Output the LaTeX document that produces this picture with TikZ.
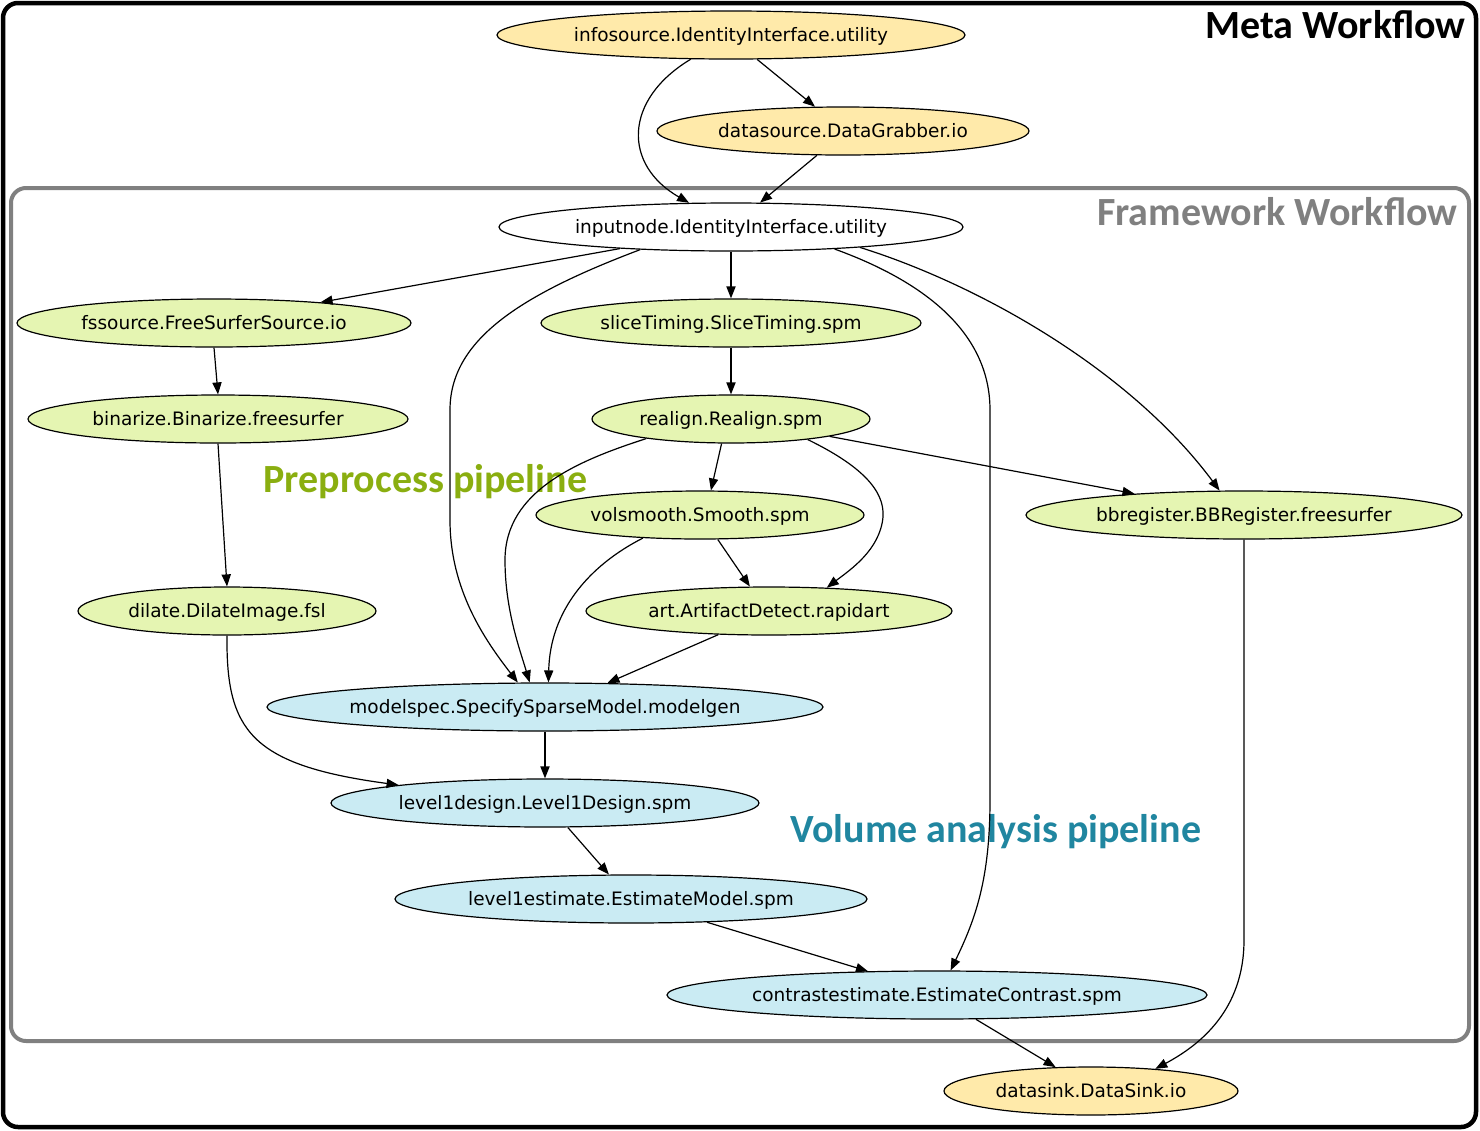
\documentclass[tikz,border=0pt]{standalone}
\usepackage{fontspec}
\setmainfont{DejaVu Sans}
\newfontfamily\titlefont{Carlito}
\usetikzlibrary{shapes.geometric,arrows.meta}
\definecolor{metaY}{RGB}{255,234,170}
\definecolor{preG}{RGB}{229,245,178}
\definecolor{volB}{RGB}{202,235,243}
\definecolor{preT}{RGB}{138,174,16}
\definecolor{volT}{RGB}{32,134,160}
\definecolor{frameG}{RGB}{128,128,128}
\tikzset{
  wf/.style={ellipse, draw=black, line width=0.6pt, inner sep=0pt, minimum height=24pt, text height=6.75pt, text depth=0pt, font=\fontsize{9.25}{11}\selectfont},
  metanode/.style={wf, fill=metaY},
  prenode/.style={wf, fill=preG},
  volnode/.style={wf, fill=volB},
  plainnode/.style={wf, fill=white},
  edge/.style={line width=0.6pt, -{Triangle[length=6pt,width=4.6pt]}},
  bigtitle/.style={font=\titlefont\bfseries\fontsize{20}{22}\selectfont, inner sep=0pt}
}
\begin{document}
\begin{tikzpicture}[x=0.5pt,y=-0.5pt]
\useasboundingbox (0,0) rectangle (1480,1131);
% frames
\draw[line width=2.25pt, rounded corners=7.5pt] (3,3) rectangle (1476,1127);
\draw[line width=2pt, draw=frameG, rounded corners=7.5pt] (11,188) rectangle (1469,1041);
% titles
\node[bigtitle, anchor=base east] (tmeta) at (1466,38) {Meta Workflow};
\node[bigtitle, text=frameG, anchor=base east] (tframe) at (1458,225) {Framework Workflow};
\node[bigtitle, text=preT, anchor=base west] (tpre) at (263,492) {Preprocess pipeline};
\node[bigtitle, text=volT, anchor=base west] (tvol) at (790,842) {Volume analysis pipeline};
% nodes
\node[metanode, minimum width=234pt] (info) at (731,35) {infosource.IdentityInterface.utility};
\node[metanode, minimum width=186pt] (dsrc) at (843,131) {datasource.DataGrabber.io};
\node[plainnode, minimum width=232pt] (inp) at (731,227) {inputnode.IdentityInterface.utility};
\node[prenode, minimum width=197pt] (fss) at (214,323) {fssource.FreeSurferSource.io};
\node[prenode, minimum width=190pt] (slice) at (731,323) {sliceTiming.SliceTiming.spm};
\node[prenode, minimum width=190pt] (bin) at (218,419) {binarize.Binarize.freesurfer};
\node[prenode, minimum width=139pt] (real) at (731,419) {realign.Realign.spm};
\node[prenode, minimum width=164pt] (vsm) at (700,515) {volsmooth.Smooth.spm};
\node[prenode, minimum width=218pt] (bbr) at (1244,515) {bbregister.BBRegister.freesurfer};
\node[prenode, minimum width=149pt] (dil) at (227,611) {dilate.DilateImage.fsl};
\node[prenode, minimum width=183pt] (art) at (769,611) {art.ArtifactDetect.rapidart};
\node[volnode, minimum width=278pt] (mspec) at (545,707) {modelspec.SpecifySparseModel.modelgen};
\node[volnode, minimum width=214pt] (l1d) at (545,803) {level1design.Level1Design.spm};
\node[volnode, minimum width=236pt] (l1e) at (631,899) {level1estimate.EstimateModel.spm};
\node[volnode, minimum width=270pt] (con) at (937,995) {contrastestimate.EstimateContrast.spm};
\node[metanode, minimum width=147pt] (sink) at (1091,1091) {datasink.DataSink.io};
% edges
\draw[edge] (info.-43) -- (dsrc.139);
\draw[edge] (info.211) .. controls (623,100) and (623,165) .. (inp.150);
\draw[edge] (dsrc.223) -- (inp.40);
\draw[edge] (inp.191) -- (fss.11);
\draw[edge] (inp.south) -- (slice.north);
\draw[edge] (inp.194.5) .. controls (520,295) and (450,340) .. (450,410) -- (450,520) .. controls (450,590) and (485,640) .. (mspec.138);
\draw[edge] (inp.-12) .. controls (920,280) and (990,330) .. (990,410) -- (990,800) .. controls (990,880) and (975,920) .. (con.61.6);
\draw[edge] (inp.-9) .. controls (980,285) and (1130,370) .. (bbr.135);
\draw[edge] (fss.south) -- (bin.north);
\draw[edge] (bin.south) -- (dil.north);
\draw[edge] (slice.south) -- (real.north);
\draw[edge] (real.249.4) -- (vsm.66.5);
\draw[edge] (real.-10.8) -- (bbr.169.3);
\draw[edge] (real.-15.3) .. controls (860,465) and (885,490) .. (883,517) .. controls (880,550) and (850,570) .. (art.22.3);
\draw[edge] (real.193.5) .. controls (580,460) and (505,490) .. (505,560) .. controls (505,610) and (520,650) .. (mspec.122);
\draw[edge] (vsm.-54.2) -- (art.128);
\draw[edge] (vsm.202.6) .. controls (590,565) and (550,610) .. (mspec.82.9);
\draw[edge] (art.205.3) -- (mspec.21.8);
\draw[edge] (dil.south) .. controls (226,730) and (250,765) .. (l1d.173);
\draw[edge] (mspec.south) -- (l1d.north);
\draw[edge] (l1d.-47.5) -- (l1e.132.5);
\draw[edge] (l1e.-17.7) -- (con.161.6);
\draw[edge] (con.-32.3) -- (sink.146.3);
\draw[edge] (bbr.south) -- (1244,940) .. controls (1244,1010) and (1200,1045) .. (sink.19.8);
\end{tikzpicture}
\end{document}
